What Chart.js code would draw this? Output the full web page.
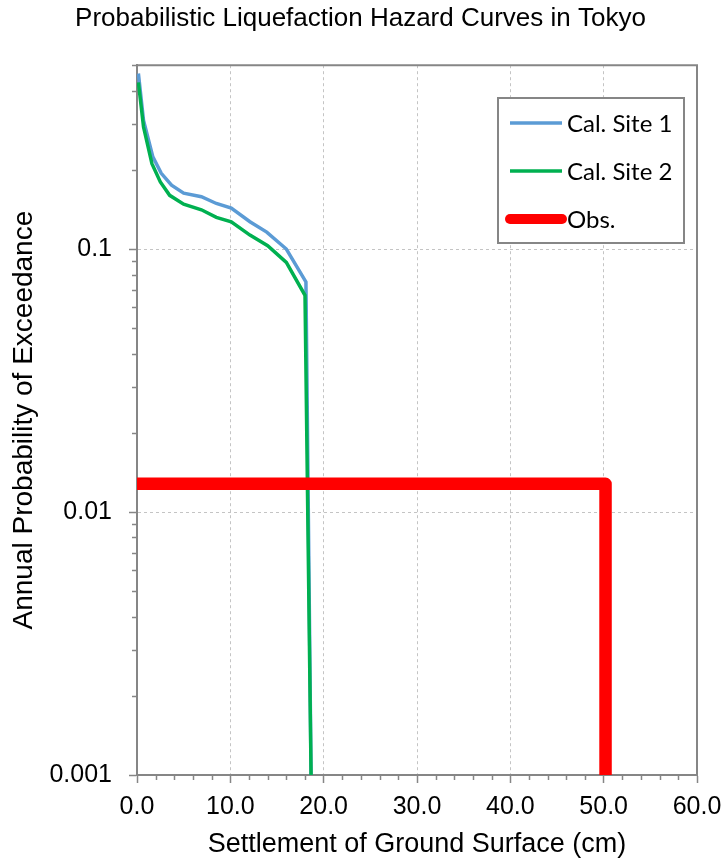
<!DOCTYPE html>
<html>
<head>
<meta charset="utf-8">
<title>Probabilistic Liquefaction Hazard Curves in Tokyo</title>
<script src="https://cdn.jsdelivr.net/npm/chart.js@4.4.0/dist/chart.umd.min.js"></script>
<style>
  html, body { margin: 0; padding: 0; background: #fff; }
</style>
</head>
<body>
<canvas id="hazardChart" width="721" height="858"></canvas>
<script>
// data: settlement (cm) vs annual probability of exceedance
var site1X = [0.15, 0.7, 1.7, 2.6, 3.7, 5.0, 6.9, 8.5, 10.1, 12.1, 13.9, 16.0, 18.1, 18.65];
var site1Y = [0.465, 0.308, 0.224, 0.194, 0.175, 0.163, 0.158, 0.149, 0.143, 0.127, 0.116, 0.100, 0.075, 0.001];
var site2X = [0.15, 0.7, 1.6, 2.5, 3.5, 5.0, 6.9, 8.5, 10.1, 12.1, 14.0, 16.0, 18.0, 18.65];
var site2Y = [0.43, 0.291, 0.211, 0.180, 0.160, 0.148, 0.141, 0.132, 0.127, 0.113, 0.103, 0.089, 0.0667, 0.001];
var obsX = [0, 50.2, 50.2];
var obsY = [0.0128, 0.0128, 0.001];
var seriesLabels = ['Cal. Site 1', 'Cal. Site 2', 'Obs.'];
var seriesColors = ['#5B9BD5', '#00B050', '#FF0000'];

// axis ticks
var xMajorTicks = [0, 10, 20, 30, 40, 50, 60];
var yDecades = [0.001, 0.01, 0.1];
var yTickLabels = ['0.001', '0.01', '0.1'];
var yMin = 0.001, yMax = 0.5;

var AXIS_GRAY = '#868686';
var GRID_GRAY = '#c4c4c4';
var FONT = "'Liberation Sans', Arial, sans-serif";

function toPoints(xs, ys) {
    return xs.map(function (x, i) { return { x: x, y: ys[i] }; });
}

function isDecade(v) {
    return yDecades.some(function (d) { return Math.abs(v - d) < d * 1e-6; });
}

// plot frame, minor tick marks and the boxed legend
var extrasPlugin = {
    id: 'extras',
    afterDraw: function (chart) {
        var ctx = chart.ctx;
        var area = chart.chartArea;
        var xs = chart.scales.x, ys = chart.scales.y;

        ctx.save();
        ctx.strokeStyle = AXIS_GRAY;
        ctx.lineWidth = 2;
        ctx.beginPath();
        ctx.moveTo(area.left, area.top);
        ctx.lineTo(area.right, area.top);
        ctx.lineTo(area.right, area.bottom);
        ctx.stroke();

        // minor ticks
        ctx.lineWidth = 1.5;
        ctx.beginPath();
        xs.ticks.forEach(function (t) {
            if (t.value % 10 !== 0) {
                var px = Math.round(xs.getPixelForValue(t.value)) + 0.5;
                ctx.moveTo(px, area.bottom);
                ctx.lineTo(px, area.bottom + 5);
            }
        });
        ys.ticks.forEach(function (t) {
            if (!isDecade(t.value)) {
                var py = Math.round(ys.getPixelForValue(t.value)) + 0.5;
                ctx.moveTo(area.left - 5, py);
                ctx.lineTo(area.left, py);
            }
        });
        ctx.stroke();

        // legend
        var box = { left: 498, top: 98, right: 684, bottom: 243 };
        ctx.fillStyle = '#fff';
        ctx.fillRect(box.left, box.top, box.right - box.left, box.bottom - box.top);
        ctx.strokeStyle = AXIS_GRAY;
        ctx.lineWidth = 2;
        ctx.strokeRect(box.left, box.top, box.right - box.left, box.bottom - box.top);

        ctx.font = "24px Lato, 'Open Sans', sans-serif";
        ctx.textBaseline = 'middle';
        ctx.textAlign = 'left';
        chart.data.datasets.forEach(function (ds, i) {
            var y = box.top + 25 + i * 48;
            ctx.strokeStyle = ds.borderColor;
            ctx.lineWidth = i === 2 ? 10 : 3.5;
            ctx.lineCap = i === 2 ? 'round' : 'butt';
            ctx.beginPath();
            ctx.moveTo(box.left + 12, y);
            ctx.lineTo(box.left + 64, y);
            ctx.stroke();
            ctx.fillStyle = '#000';
            ctx.fillText(ds.label, box.left + 69, y + 1);
        });
        ctx.restore();
    }
};

var ctx = document.getElementById('hazardChart').getContext('2d');
var hazardChart = new Chart(ctx, {
    type: 'line',
    data: {
        datasets: [{
            label: seriesLabels[0],
            data: toPoints(site1X, site1Y),
            borderColor: seriesColors[0],
            borderWidth: 3.5,
            order: 2
        }, {
            label: seriesLabels[1],
            data: toPoints(site2X, site2Y),
            borderColor: seriesColors[1],
            borderWidth: 3.5,
            order: 1
        }, {
            label: seriesLabels[2],
            data: toPoints(obsX, obsY),
            borderColor: seriesColors[2],
            borderWidth: 12.5,
            borderJoinStyle: 'round',
            order: 0
        }]
    },
    options: {
        responsive: false,
        animation: false,
        layout: { padding: 0 },
        elements: {
            point: { radius: 0, hoverRadius: 0 },
            line: { tension: 0, fill: false }
        },
        plugins: {
            legend: { display: false },
            tooltip: { enabled: false },
            title: {
                display: true,
                text: 'Probabilistic Liquefaction Hazard Curves in Tokyo',
                color: '#000',
                font: { family: FONT, size: 26, weight: 'normal' },
                padding: { top: 3, bottom: 31 }
            }
        },
        scales: {
            x: {
                type: 'linear',
                min: 0,
                max: 60,
                afterFit: function (scale) {
                    scale.height = 83;
                    scale.paddingRight = 24;
                },
                ticks: {
                    stepSize: 2,
                    autoSkip: false,
                    maxRotation: 0,
                    color: '#000',
                    padding: 9,
                    font: { family: FONT, size: 25 },
                    callback: function (v) {
                        return xMajorTicks.indexOf(v) >= 0 ? v.toFixed(1) : '';
                    }
                },
                grid: {
                    tickLength: 8,
                    tickWidth: 1.5,
                    tickColor: function (c) {
                        return c.tick && c.tick.value % 10 === 0 ? AXIS_GRAY : 'transparent';
                    },
                    color: function (c) {
                        var v = c.tick ? c.tick.value : 0;
                        return v % 10 === 0 && v > 0 && v < 60 ? GRID_GRAY : 'transparent';
                    },
                    lineWidth: 1
                },
                border: { color: AXIS_GRAY, width: 2, dash: [3, 3] },
                title: {
                    display: true,
                    text: 'Settlement of Ground Surface (cm)',
                    color: '#000',
                    font: { family: FONT, size: 27, lineHeight: 1 },
                    padding: { top: 0, bottom: 0 }
                }
            },
            y: {
                type: 'logarithmic',
                min: yMin,
                max: yMax,
                afterFit: function (scale) { scale.width = 137; },
                afterBuildTicks: function (scale) {
                    var ticks = [];
                    yDecades.forEach(function (d) {
                        for (var m = 1; m <= 9; m++) {
                            var v = Math.round(d * m * 1e6) / 1e6;
                            if (v <= yMax) ticks.push({ value: v, major: m === 1 });
                        }
                    });
                    scale.ticks = ticks;
                },
                ticks: {
                    autoSkip: false,
                    color: '#000',
                    padding: 17,
                    font: { family: FONT, size: 25 },
                    callback: function (v) {
                        for (var i = 0; i < yDecades.length; i++) {
                            if (Math.abs(v - yDecades[i]) < yDecades[i] * 1e-6) return yTickLabels[i];
                        }
                        return '';
                    }
                },
                grid: {
                    tickLength: 8,
                    tickWidth: 1.5,
                    tickColor: function (c) {
                        return c.tick && isDecade(c.tick.value) ? AXIS_GRAY : 'transparent';
                    },
                    color: function (c) {
                        var v = c.tick ? c.tick.value : 0;
                        return isDecade(v) && v > yMin * 1.5 ? GRID_GRAY : 'transparent';
                    },
                    lineWidth: 1
                },
                border: { color: AXIS_GRAY, width: 2, dash: [3, 3] },
                title: {
                    display: true,
                    text: 'Annual Probability of Exceedance',
                    color: '#000',
                    font: { family: FONT, size: 28, lineHeight: 1 },
                    padding: { top: 10, bottom: 0 }
                }
            }
        }
    },
    plugins: [extrasPlugin]
});
</script>
</body>
</html>
